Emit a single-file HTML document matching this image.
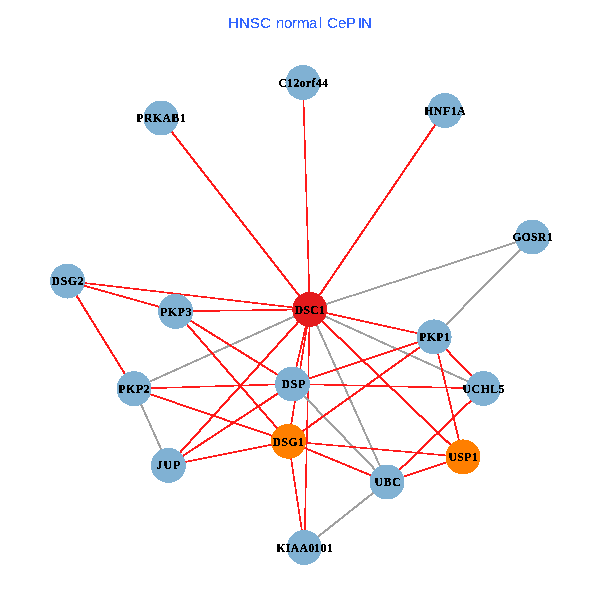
<!DOCTYPE html>
<html><head><meta charset="utf-8"><style>
html,body{margin:0;padding:0;background:#fff;width:600px;height:600px;overflow:hidden}
svg{display:block}
.t{font-family:"Liberation Sans",sans-serif;font-size:15px;fill:#3366FF}
.n text{font-family:"Liberation Serif",serif;font-weight:bold;font-size:11.5px;fill:#000;text-anchor:middle}
</style></head><body>
<svg width="600" height="600" viewBox="0 0 600 600">
<defs><filter id="th" x="-20%" y="-50%" width="140%" height="200%"><feComponentTransfer><feFuncA type="discrete" tableValues="0 1"/></feComponentTransfer></filter><filter id="th2" x="-20%" y="-50%" width="140%" height="200%"><feComponentTransfer><feFuncA type="discrete" tableValues="0 1 1"/></feComponentTransfer></filter><filter id="th3" x="-20%" y="-50%" width="140%" height="200%"><feComponentTransfer><feFuncA type="discrete" tableValues="0 0 1 1 1"/></feComponentTransfer></filter></defs>
<text class="t" x="228 239 250 260 276 284 292 297 309 319 327 338 346 358 361" y="28" filter="url(#th3)">HNSCnormalCePIN</text>
<g stroke-width="1.5" shape-rendering="crispEdges">
<line x1="309.8" y1="309.4" x2="303" y2="82.5" stroke="#FF1A1A" stroke-width="1.544"/>
<line x1="309.8" y1="309.4" x2="161" y2="118" stroke="#FF1A1A" stroke-width="2.105"/>
<line x1="309.8" y1="309.4" x2="445" y2="110.5" stroke="#FF1A1A" stroke-width="2.084"/>
<line x1="309.8" y1="309.4" x2="67.5" y2="281" stroke="#FF1A1A" stroke-width="1.664"/>
<line x1="309.8" y1="309.4" x2="175.7" y2="311.4" stroke="#FF1A1A" stroke-width="1.522"/>
<line x1="309.8" y1="309.4" x2="532.4" y2="237" stroke="#A0A0A0" stroke-width="1.89"/>
<line x1="309.8" y1="309.4" x2="434.1" y2="336.9" stroke="#FF1A1A" stroke-width="1.789"/>
<line x1="309.8" y1="309.4" x2="483.5" y2="388.5" stroke="#A0A0A0" stroke-width="1.987"/>
<line x1="309.8" y1="309.4" x2="292.4" y2="384" stroke="#FF1A1A" stroke-width="1.802"/>
<line x1="309.8" y1="309.4" x2="288.5" y2="441.3" stroke="#FF1A1A" stroke-width="1.72"/>
<line x1="309.8" y1="309.4" x2="304.4" y2="547.5" stroke="#FF1A1A" stroke-width="1.534"/>
<line x1="309.8" y1="309.4" x2="387" y2="482" stroke="#A0A0A0" stroke-width="1.982"/>
<line x1="309.8" y1="309.4" x2="463" y2="456.9" stroke="#FF1A1A" stroke-width="2.121"/>
<line x1="309.8" y1="309.4" x2="168.4" y2="465.4" stroke="#FF1A1A" stroke-width="2.119"/>
<line x1="309.8" y1="309.4" x2="134" y2="388.7" stroke="#A0A0A0" stroke-width="1.984"/>
<line x1="67.5" y1="281" x2="175.7" y2="311.4" stroke="#FF1A1A" stroke-width="1.85"/>
<line x1="67.5" y1="281" x2="134" y2="388.7" stroke="#FF1A1A" stroke-width="2.064"/>
<line x1="175.7" y1="311.4" x2="288.5" y2="441.3" stroke="#FF1A1A" stroke-width="2.116"/>
<line x1="175.7" y1="311.4" x2="292.4" y2="384" stroke="#FF1A1A" stroke-width="2.066"/>
<line x1="134" y1="388.7" x2="292.4" y2="384" stroke="#FF1A1A" stroke-width="1.544"/>
<line x1="134" y1="388.7" x2="288.5" y2="441.3" stroke="#FF1A1A" stroke-width="1.903"/>
<line x1="134" y1="388.7" x2="168.4" y2="465.4" stroke="#A0A0A0" stroke-width="1.982"/>
<line x1="168.4" y1="465.4" x2="288.5" y2="441.3" stroke="#FF1A1A" stroke-width="1.766"/>
<line x1="168.4" y1="465.4" x2="292.4" y2="384" stroke="#FF1A1A" stroke-width="2.077"/>
<line x1="292.4" y1="384" x2="434.1" y2="336.9" stroke="#FF1A1A" stroke-width="1.897"/>
<line x1="292.4" y1="384" x2="483.5" y2="388.5" stroke="#FF1A1A" stroke-width="1.535"/>
<line x1="292.4" y1="384" x2="387" y2="482" stroke="#A0A0A0" stroke-width="2.121"/>
<line x1="288.5" y1="441.3" x2="434.1" y2="336.9" stroke="#FF1A1A" stroke-width="2.093"/>
<line x1="288.5" y1="441.3" x2="463" y2="456.9" stroke="#FF1A1A" stroke-width="1.628"/>
<line x1="288.5" y1="441.3" x2="387" y2="482" stroke="#FF1A1A" stroke-width="1.959"/>
<line x1="288.5" y1="441.3" x2="304.4" y2="547.5" stroke="#FF1A1A" stroke-width="1.706"/>
<line x1="434.1" y1="336.9" x2="532.4" y2="237" stroke="#A0A0A0" stroke-width="2.121"/>
<line x1="434.1" y1="336.9" x2="483.5" y2="388.5" stroke="#FF1A1A" stroke-width="2.121"/>
<line x1="434.1" y1="336.9" x2="463" y2="456.9" stroke="#FF1A1A" stroke-width="1.81"/>
<line x1="483.5" y1="388.5" x2="387" y2="482" stroke="#FF1A1A" stroke-width="2.121"/>
<line x1="463" y1="456.9" x2="387" y2="482" stroke="#FF1A1A" stroke-width="1.895"/>
<line x1="387" y1="482" x2="304.4" y2="547.5" stroke="#A0A0A0" stroke-width="2.107"/>
</g>
<g shape-rendering="crispEdges">
<circle cx="303" cy="82.5" r="17.5" fill="#80B1D3"/>
<circle cx="161" cy="118" r="17.5" fill="#80B1D3"/>
<circle cx="445" cy="110.5" r="17.5" fill="#80B1D3"/>
<circle cx="532.4" cy="237" r="17.5" fill="#80B1D3"/>
<circle cx="67.5" cy="281" r="17.5" fill="#80B1D3"/>
<circle cx="175.7" cy="311.4" r="17.5" fill="#80B1D3"/>
<circle cx="309.8" cy="309.4" r="17.5" fill="#E41A1C"/>
<circle cx="434.1" cy="336.9" r="17.5" fill="#80B1D3"/>
<circle cx="134" cy="388.7" r="17.5" fill="#80B1D3"/>
<circle cx="292.4" cy="384" r="17.5" fill="#80B1D3"/>
<circle cx="483.5" cy="388.5" r="17.5" fill="#80B1D3"/>
<circle cx="288.5" cy="441.3" r="17.5" fill="#FF7F00"/>
<circle cx="463" cy="456.9" r="17.5" fill="#FF7F00"/>
<circle cx="168.4" cy="465.4" r="17.5" fill="#80B1D3"/>
<circle cx="387" cy="482" r="17.5" fill="#80B1D3"/>
<circle cx="304.4" cy="547.5" r="17.5" fill="#80B1D3"/>
</g>
<g class="n" filter="url(#th2)">
<text x="303.25" y="87" textLength="49.5" lengthAdjust="spacing">C12orf44</text>
<text x="161.0" y="122" textLength="49.0" lengthAdjust="spacing">PRKAB1</text>
<text x="445.0" y="115" textLength="41.0" lengthAdjust="spacing">HNF1A</text>
<text x="532.4" y="241" textLength="40.0" lengthAdjust="spacing">GOSR1</text>
<text x="67.5" y="285" textLength="32.0" lengthAdjust="spacing">DSG2</text>
<text x="175.7" y="316" textLength="31.0" lengthAdjust="spacing">PKP3</text>
<text x="309.8" y="314" textLength="30.0" lengthAdjust="spacing">DSC1</text>
<text x="434.6" y="341" textLength="30.0" lengthAdjust="spacing">PKP1</text>
<text x="134.0" y="393" textLength="31.0" lengthAdjust="spacing">PKP2</text>
<text x="293.4" y="388" textLength="24.0" lengthAdjust="spacing">DSP</text>
<text x="483.5" y="393" textLength="42.0" lengthAdjust="spacing">UCHL5</text>
<text x="288.25" y="446" textLength="31.5" lengthAdjust="spacing">DSG1</text>
<text x="463.0" y="461" textLength="29.0" lengthAdjust="spacing">USP1</text>
<text x="168.4" y="469" textLength="24.0" lengthAdjust="spacing">JUP</text>
<text x="387.5" y="486" textLength="26.0" lengthAdjust="spacing">UBC</text>
<text x="304.4" y="552" textLength="56.0" lengthAdjust="spacing">KIAA0101</text>
</g>
</svg>
</body></html>
